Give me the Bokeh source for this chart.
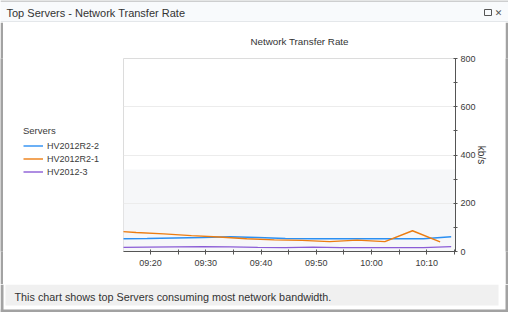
import pandas as pd
from bokeh.plotting import figure
from bokeh.layouts import column, row
from bokeh.models import (Range1d, FixedTicker, DatetimeTickFormatter, BoxAnnotation,
                          Label, Legend, LegendItem, Title)
from bokeh.embed import file_html
from bokeh.resources import INLINE

DAY = "2024-01-01 "

header_title = "Top Servers - Network Transfer Rate"
chart_title = "Network Transfer Rate"
footer_text = "This chart shows top Servers consuming most network bandwidth."
legend_title = "Servers"
y_label = "kb/s"

series_names = ["HV2012R2-2", "HV2012R2-1", "HV2012-3"]
series_colors = ["#2b8ff2", "#ec7d12", "#8b5cd6"]

blue_times = ["09:14:24", "09:19:24", "09:24:24", "09:29:24", "09:34:24", "09:39:24", "09:44:24",
              "09:49:24", "09:54:24", "09:59:24", "10:04:24", "10:09:24", "10:14:24"]
blue_values = [53, 54, 56, 58, 61, 58, 54, 53, 53, 53, 53, 53, 61]

orange_times = ["09:12:24", "09:17:24", "09:22:24", "09:27:24", "09:32:24", "09:37:24", "09:42:24",
                "09:47:24", "09:52:24", "09:57:24", "10:02:24", "10:07:24", "10:12:24"]
orange_values = [86, 79, 73, 66, 60, 53, 48, 46, 41, 47, 41, 86, 40]

purple_times = blue_times
purple_values = [17, 18, 19, 20, 19, 17, 16, 18, 16, 16, 16, 16, 20]

x_start, x_end = "09:15:07", "10:15:11"
x_ticks = ["09:20", "09:30", "09:40", "09:50", "10:00", "10:10"]
x_minor_ticks = ["09:15", "09:25", "09:35", "09:45", "09:55", "10:05", "10:15"]
y_ticks = [0, 200, 400, 600, 800]
y_minor_ticks = [100, 300, 500, 700]
band_top = 340


def ts(t):
    return pd.Timestamp(DAY + t)


def ms(t):
    return ts(t).value // 10**6


W, H = 508, 312
HEAD_H, FOOT_H = 22, 28
MID_H = H - HEAD_H - FOOT_H          # 262
BORDER = 3
FL, FR, FT, FB = 123, 455, 58, 251   # frame edges on the canvas
MAIN_W = W - BORDER - FL             # 382
LEG_W = FL - BORDER                  # 120

FONT = "Liberation Sans"
TXT = "#3a3a3a"
GRAY = "#a2a2a2"


def blank(width, height, x_range, y_range, bg):
    f = figure(width=width, height=height, output_backend="svg", toolbar_location=None,
               x_range=x_range, y_range=y_range, x_axis_location=None, y_axis_location=None,
               min_border_left=0, min_border_right=0, min_border_top=0, min_border_bottom=0,
               title=None)
    f.grid.visible = False
    f.outline_line_color = None
    f.background_fill_color = bg
    f.border_fill_color = bg
    return f


def box(f, x0, y0, x1, y1, fill=None, line=None, lw=1):
    f.add_layout(BoxAnnotation(left=x0, right=x1, top=y0, bottom=y1,
                               fill_color=fill if fill else "white", fill_alpha=1 if fill else 0,
                               line_color=line if line else "white", line_alpha=1 if line else 0,
                               line_width=lw, editable=False))


def label(f, text, x, y, size, align="left", color=TXT, font=FONT):
    f.add_layout(Label(x=x, y=y, text=text, text_font=font, text_font_size=size,
                       text_color=color, text_align=align, text_baseline="middle"))


# ---------------- header ----------------
head = blank(W, HEAD_H, Range1d(0, W), Range1d(HEAD_H, 0), "#f8fafc")
box(head, 0, 0, W, 1, GRAY)
box(head, 0, HEAD_H - 1, W, HEAD_H, "#cfd3d8")
label(head, header_title, 6, 12, "11px", color="#333333")
box(head, 484, 9, 491, 15, None, line="#555555", lw=1)
label(head, "\u2715", 498, 12, "9px", align="center", color="#555555", font="DejaVu Sans")

# ---------------- footer ----------------
foot = blank(W, FOOT_H, Range1d(0, W), Range1d(FOOT_H, 0), "white")
box(foot, 0, 0, BORDER, FOOT_H, GRAY)
box(foot, W - BORDER, 0, W, FOOT_H, GRAY)
box(foot, 0, FOOT_H - BORDER, W, FOOT_H, GRAY)
box(foot, 5, 0, 498, 21, "#f0f0f0")
label(foot, footer_text, 14, 12, "10.8px", color="#333333")

# ---------------- side strips ----------------
strip_l = blank(BORDER, MID_H, Range1d(0, 1), Range1d(0, 1), GRAY)
strip_r = blank(BORDER, MID_H, Range1d(0, 1), Range1d(0, 1), GRAY)

# ---------------- main chart ----------------
p = figure(width=MAIN_W, height=MID_H, output_backend="svg", toolbar_location=None,
           x_axis_type="datetime", y_axis_location="right",
           x_range=Range1d(ts(x_start), ts(x_end)), y_range=Range1d(0, 800),
           min_border_left=0, min_border_right=W - BORDER - FR, min_border_top=FT - HEAD_H,
           min_border_bottom=MID_H - (FB - HEAD_H), title=None)
p.background_fill_color = "white"
p.border_fill_color = "white"
p.outline_line_color = "#dcdcdc"
p.outline_line_width = 1

p.xgrid.visible = False
p.ygrid.ticker = FixedTicker(ticks=y_ticks)
p.ygrid.grid_line_color = "#ececec"
p.ygrid.grid_line_width = 1

p.add_layout(BoxAnnotation(bottom=0, top=band_top, fill_color="#f6f7f9", fill_alpha=1,
                           line_alpha=0, level="image", editable=False))

xa = p.xaxis[0]
xa.ticker = FixedTicker(ticks=[ms(t) for t in x_ticks], minor_ticks=[ms(t) for t in x_minor_ticks])
xa.formatter = DatetimeTickFormatter(minutes="%H:%M", hours="%H:%M", minsec="%H:%M",
                                     seconds="%H:%M", hourmin="%H:%M")
xa.axis_line_color = "#555555"
xa.major_tick_line_color = "#555555"
xa.minor_tick_line_color = "#555555"
xa.major_tick_in = 2
xa.major_tick_out = 3
xa.minor_tick_in = 2
xa.minor_tick_out = 3
xa.major_label_standoff = 3
xa.major_label_text_font = FONT
xa.major_label_text_font_size = "9px"
xa.major_label_text_color = TXT

ya = p.yaxis[0]
ya.ticker = FixedTicker(ticks=y_ticks, minor_ticks=y_minor_ticks)
ya.axis_line_color = "#555555"
ya.major_tick_line_color = "#555555"
ya.minor_tick_line_color = "#555555"
ya.major_tick_in = 2
ya.major_tick_out = 2
ya.minor_tick_in = 2
ya.minor_tick_out = 2
ya.major_label_standoff = 3
ya.major_label_text_font = FONT
ya.major_label_text_font_size = "9px"
ya.major_label_text_color = TXT
ya.axis_label = y_label
ya.axis_label_text_font = FONT
ya.axis_label_text_font_size = "10px"
ya.axis_label_text_font_style = "normal"
ya.axis_label_text_color = "#333333"
ya.axis_label_standoff = -3

all_series = [
    (blue_times, blue_values),
    (orange_times, orange_values),
    (purple_times, purple_values),
]
for name, color, (tt, vv) in zip(series_names, series_colors, all_series):
    p.line([ts(t) for t in tt], vv, line_color=color, line_width=1.4)

p.add_layout(Title(text=chart_title, align="left", offset=250 - FL, standoff=23,
                   text_font=FONT, text_font_size="9.8px", text_font_style="normal",
                   text_color="#333333"), "above")

# ---------------- legend panel (left of the chart) ----------------
# its frame is aligned with the chart frame (canvas y 58..251)
legfig = blank(LEG_W, MID_H, Range1d(0, LEG_W), Range1d(0, 1), "white")
items = []
for name, color in zip(series_names, series_colors):
    r = legfig.line(x=[-10, -9], y=[-10, -10], line_color=color, line_width=1.4)
    items.append(LegendItem(label=name, renderers=[r]))
legend = Legend(items=items, location=(23 - BORDER, FB - 178), title=legend_title,
                title_text_font=FONT, title_text_font_size="9.5px", title_text_color=TXT,
                title_text_font_style="normal", title_standoff=3,
                label_text_font=FONT, label_text_font_size="9px", label_text_color=TXT,
                glyph_width=20, glyph_height=13, label_height=13, label_standoff=4,
                spacing=0, padding=0, margin=0, background_fill_alpha=0, border_line_alpha=0)
legfig.add_layout(legend)

layout = column(head, row(strip_l, legfig, p, strip_r, spacing=0), foot, spacing=0)

open("out.html", "w").write(file_html(layout, INLINE))
